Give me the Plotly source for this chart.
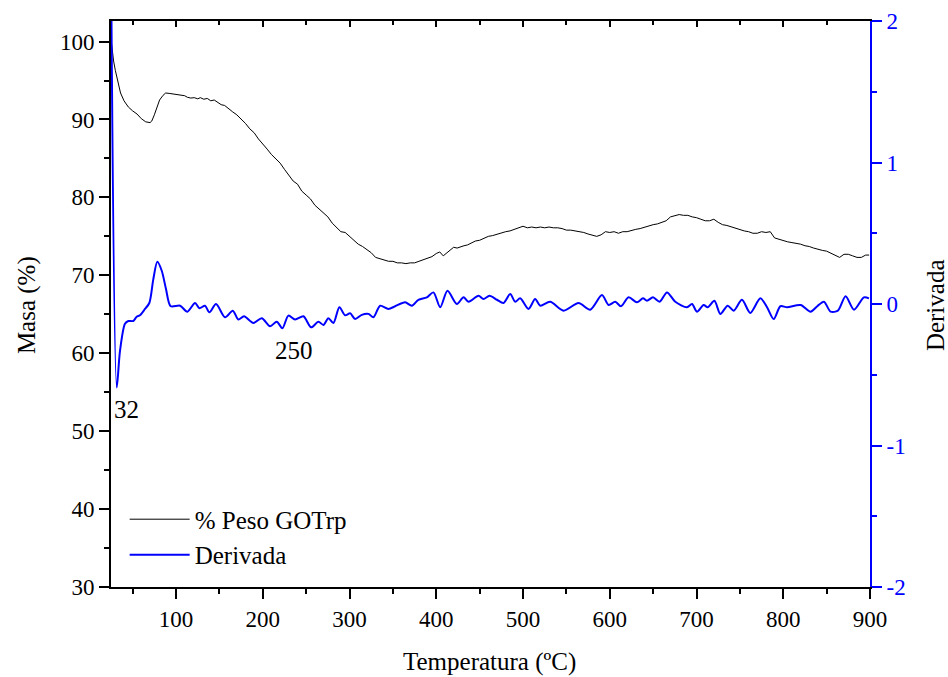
import plotly.graph_objects as go

# Thermogravimetric curve: temperature (°C) and remaining mass (%)
temp_mass = [25, 26, 28, 30, 33, 36, 40, 45, 50, 55, 60, 65, 70, 72, 75, 78, 81, 85, 88, 92,
             96, 100, 105, 110, 113, 117, 121, 125, 128, 132, 136, 140, 144, 148, 152, 156, 160, 165, 170, 175,
             180, 185, 190, 195, 200, 205, 210, 215, 220, 225, 230, 235, 240, 245, 250, 255, 260, 265, 270, 275,
             280, 285, 290, 295, 300, 305, 310, 315, 320, 325, 330, 335, 340, 345, 350, 355, 360, 365, 370, 375,
             380, 385, 390, 395, 400, 404, 408, 412, 416, 420, 424, 428, 432, 436, 440, 445, 450, 455, 460, 465,
             470, 475, 480, 485, 490, 495, 500, 505, 510, 515, 520, 525, 530, 535, 540, 545, 550, 555, 560, 565,
             570, 575, 580, 585, 590, 595, 600, 605, 610, 615, 620, 625, 630, 635, 640, 645, 650, 655, 660, 665,
             670, 675, 680, 685, 690, 695, 700, 705, 710, 715, 720, 725, 730, 735, 740, 745, 750, 755, 760, 765,
             770, 775, 780, 785, 790, 795, 800, 805, 810, 815, 820, 825, 830, 835, 840, 845, 850, 855, 860, 865,
             870, 875, 880, 885, 890, 895, 899]
mass = [100.3, 99.0, 97.5, 96.3, 94.8, 93.4, 92.4, 91.6, 91.1, 90.7, 90.1, 89.7, 89.6, 89.8, 90.6, 91.6, 92.5, 93.1, 93.4, 93.35,
        93.3, 93.2, 93.1, 93.05, 92.85, 92.75, 92.8, 92.65, 92.8, 92.6, 92.7, 92.4, 92.5, 92.2, 91.9, 91.8, 91.4, 91.0, 90.6, 90.1,
        89.5, 88.8, 88.3, 87.5, 86.9, 86.2, 85.5, 84.9, 84.4, 83.6, 82.8, 82.1, 81.7, 80.8, 80.3, 79.8, 79.0, 78.5, 77.9, 77.5,
        76.7, 76.2, 75.6, 75.5, 75.0, 74.6, 74.0, 73.7, 73.3, 72.9, 72.3, 72.1, 72.0, 71.8, 71.8, 71.6, 71.6, 71.5, 71.6, 71.6,
        71.8, 72.0, 72.1, 72.4, 72.8, 73.0, 72.5, 72.9, 73.3, 73.6, 73.5, 73.7, 73.8, 73.9, 74.1, 74.4, 74.5, 74.8, 75.0, 75.1,
        75.3, 75.4, 75.6, 75.7, 75.9, 76.1, 76.3, 76.1, 76.2, 76.1, 76.2, 76.1, 76.2, 76.1, 76.1, 76.0, 75.8, 75.8, 75.7, 75.6,
        75.5, 75.3, 75.1, 75.0, 75.2, 75.6, 75.5, 75.6, 75.4, 75.6, 75.6, 75.8, 75.9, 76.0, 76.2, 76.4, 76.5, 76.6, 76.8, 77.0,
        77.5, 77.7, 77.8, 77.7, 77.7, 77.5, 77.4, 77.2, 77.0, 77.0, 77.2, 76.8, 76.5, 76.4, 76.2, 76.1, 75.9, 75.7, 75.6, 75.4,
        75.4, 75.6, 75.5, 75.6, 74.8, 74.6, 74.5, 74.3, 74.2, 74.1, 74.0, 73.8, 73.7, 73.5, 73.3, 73.2, 73.1, 72.8, 72.6, 72.3,
        72.7, 72.7, 72.5, 72.3, 72.3, 72.6, 72.6]

# Derivative of the mass curve
temp_deriv = [25.5, 31.6, 35.4, 41.1, 45.0, 50.7, 54.6, 58.4, 64.2, 69.2, 73.8, 78.4, 83.5, 88.4, 93.8, 104.6, 113.0, 121.9, 126.8, 133.4,
              138.4, 146.1, 156.5, 165.4, 171.8, 178.4, 189.1, 198.8, 208.4, 216.1, 222.6, 229.5, 237.2, 246.8, 255.7, 264.1, 269.9, 275.6, 281.4, 288.3,
              294.9, 300.7, 306.4, 314.1, 321.8, 327.5, 335.3, 344.8, 352.6, 364.1, 371.8, 379.4, 389.1, 396.7, 404.5, 412.9, 423.7, 431.4, 437.1, 448.7,
              454.4, 461.3, 469.9, 477.5, 485.2, 491.0, 496.7, 506.3, 514.0, 519.8, 531.3, 546.7, 564.0, 577.5, 591.0, 598.7, 606.3, 612.9, 621.7, 631.3,
              638.3, 642.9, 649.8, 657.5, 666.0, 675.5, 689.0, 694.8, 700.5, 708.2, 712.9, 720.6, 727.5, 735.9, 742.9, 752.4, 762.0, 773.6, 781.3, 789.0,
              796.7, 804.4, 820.0, 831.5, 839.2, 846.9, 854.6, 863.0, 871.9, 881.5, 893.0, 898.8]
deriv = [2.05, -0.59, -0.33, -0.14, -0.12, -0.12, -0.09, -0.08, -0.035, 0.007, 0.176, 0.298, 0.235, 0.106, -0.016, -0.012, -0.054, 0.007, -0.03, -0.012,
         -0.059, 0.0, -0.094, -0.047, -0.11, -0.087, -0.134, -0.1, -0.157, -0.125, -0.171, -0.082, -0.11, -0.087, -0.165, -0.125, -0.148, -0.1, -0.134, -0.023,
         -0.08, -0.066, -0.106, -0.077, -0.07, -0.094, -0.012, -0.035, -0.016, 0.012, -0.012, 0.03, 0.047, 0.082, -0.023, 0.094, 0.0, 0.047, 0.016, 0.058,
         0.035, 0.058, 0.03, 0.007, 0.07, 0.016, 0.04, -0.035, 0.035, -0.012, 0.016, -0.047, 0.007, -0.04, 0.063, -0.007, 0.016, -0.016, 0.047, 0.012,
         0.04, 0.023, 0.047, 0.016, 0.082, 0.016, -0.023, 0.0, -0.054, -0.007, -0.023, 0.023, -0.07, -0.012, -0.047, 0.03, -0.063, 0.04, -0.023, -0.106,
         -0.016, -0.023, -0.007, -0.054, -0.016, 0.016, -0.054, -0.047, 0.054, -0.04, 0.047, 0.04]

x_ticks = [100, 200, 300, 400, 500, 600, 700, 800, 900]
mass_ticks = [30, 40, 50, 60, 70, 80, 90, 100]
deriv_ticks = [-2, -1, 0, 1, 2]
deriv_labels = ["-2", "-1", "0", "1", "2"]

FONT = "Liberation Serif"
BLUE = "#0000ff"

fig = go.Figure()
fig.add_trace(go.Scatter(x=temp_mass, y=mass, mode="lines", name="% Peso GOTrp",
                         line=dict(color="black", width=1), yaxis="y"))
fig.add_trace(go.Scatter(x=temp_deriv, y=deriv, mode="lines", name="Derivada",
                         line=dict(color=BLUE, width=2, shape="spline", smoothing=0.8), yaxis="y2"))
# Carrier trace for the top frame axis (inside ticks)
fig.add_trace(go.Scatter(x=[x_ticks[0]], y=[mass_ticks[0]], mode="markers", xaxis="x2", yaxis="y",
                         marker=dict(opacity=0), showlegend=False, hoverinfo="skip"))

# Peak labels
dmin_i = deriv.index(min(deriv))
fig.add_annotation(x=temp_deriv[dmin_i], y=deriv[dmin_i], xref="x", yref="y2", text="32",
                   showarrow=False, xanchor="left", yanchor="top", xshift=-5, yshift=-7,
                   font=dict(family=FONT, size=25, color="black"))
fig.add_annotation(x=236, y=-0.33, xref="x", yref="y2", text="250", showarrow=False,
                   font=dict(family=FONT, size=25, color="black"))

# Axis titles
fig.add_annotation(x=0.4993, y=-0.1325, xref="paper", yref="paper", text="Temperatura (ºC)",
                   showarrow=False, xanchor="center", yanchor="middle",
                   font=dict(family=FONT, size=25, color="black"))
fig.add_annotation(x=-0.1107, y=0.498, xref="paper", yref="paper", text="Masa (%)", textangle=-90,
                   showarrow=False, xanchor="center", yanchor="middle",
                   font=dict(family=FONT, size=25, color="black"))
fig.add_annotation(x=1.0856, y=0.498, xref="paper", yref="paper", text="Derivada", textangle=-90,
                   showarrow=False, xanchor="center", yanchor="middle",
                   font=dict(family=FONT, size=25, color="black"))

fig.update_layout(
    width=948, height=677,
    margin=dict(l=111, r=78, t=21, b=90),
    paper_bgcolor="white", plot_bgcolor="white",
    font=dict(family=FONT, size=23, color="black"),
    showlegend=True,
    legend=dict(x=0.018, y=0.16, xanchor="left", yanchor="top", bgcolor="rgba(0,0,0,0)",
                font=dict(family=FONT, size=25, color="black"), tracegroupgap=0, itemwidth=60),
    xaxis=dict(range=[25, 900], tickvals=x_ticks, ticks="outside", ticklen=10, tickwidth=2,
               tickcolor="black", showline=True, linecolor="black", linewidth=2, showgrid=False,
               zeroline=False, automargin=False,
               minor=dict(dtick=50, tick0=0, ticks="outside", ticklen=5, tickwidth=2, tickcolor="black"),
               tickfont=dict(size=23)),
    xaxis2=dict(range=[25, 900], overlaying="x", side="top", tickvals=x_ticks, ticks="inside",
                ticklen=6, tickwidth=2, tickcolor="black", showline=True, linecolor="black", linewidth=2,
                showticklabels=False, showgrid=False, zeroline=False, automargin=False,
                minor=dict(dtick=50, tick0=0, ticks="inside", ticklen=4, tickwidth=2, tickcolor="black")),
    yaxis=dict(range=[30, 102.64], tickvals=mass_ticks, ticks="outside", ticklen=10, tickwidth=2,
               tickcolor="black", showline=True, linecolor="black", linewidth=2, showgrid=False,
               zeroline=False, automargin=False,
               minor=dict(dtick=5, tick0=0, ticks="outside", ticklen=5, tickwidth=2, tickcolor="black"),
               tickfont=dict(size=23)),
    yaxis2=dict(range=[-2, 2], overlaying="y", side="right", tickvals=deriv_ticks, ticktext=deriv_labels,
                ticks="outside", ticklen=10, tickwidth=2, tickcolor=BLUE, showline=True, linecolor=BLUE,
                linewidth=2, showgrid=False, zeroline=False, automargin=False,
                minor=dict(dtick=0.5, tick0=0, ticks="outside", ticklen=5, tickwidth=2, tickcolor=BLUE),
                tickfont=dict(size=23, color=BLUE)),
)

fig.write_html("out.html")
